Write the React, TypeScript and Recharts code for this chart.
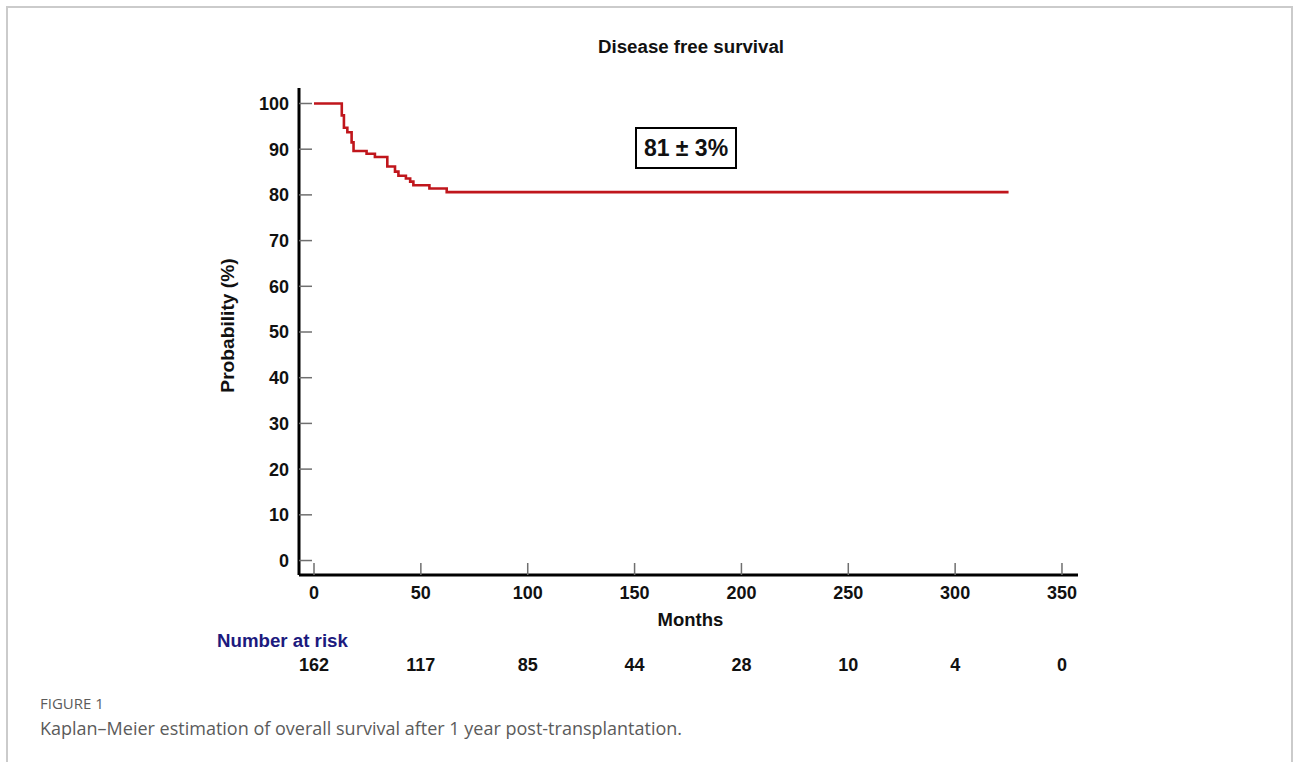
import React from 'react';
import { LineChart, Line, XAxis, YAxis, Label } from 'recharts';

const months = [0, 13.0, 14.0, 15.6, 17.6, 18.5, 24.6, 28.5, 34.3, 37.9, 39.5, 43.0, 45.0, 46.5, 54.0, 62.1, 325];
const survival = [100, 97.4, 94.7, 93.7, 91.5, 89.6, 89.0, 88.3, 86.2, 85.1, 84.2, 83.6, 82.9, 82.1, 81.4, 80.6, 80.6];
const xTicks = [0, 50, 100, 150, 200, 250, 300, 350];
const yTicks = [0, 10, 20, 30, 40, 50, 60, 70, 80, 90, 100];
const numberAtRisk = [162, 117, 85, 44, 28, 10, 4, 0];

const chartTitle = 'Disease free survival';
const xTitle = 'Months';
const yTitle = 'Probability (%)';
const riskTitle = 'Number at risk';
const estimateLabel = '81 ± 3%';
const figureLabel = 'FIGURE 1';
const caption = 'Kaplan\u2013Meier estimation of overall survival after 1 year post-transplantation.';

const data = months.map((t, i) => ({ t, s: survival[i] }));

const FONT = '"Liberation Sans", Arial, sans-serif';
const TICK_GRAY = '#6f6f6f';

const YTick = (props: any) => {
  const { x, y, payload } = props;
  return (
    <g>
      <line x1={x} x2={x + 13} y1={y} y2={y} stroke={TICK_GRAY} strokeWidth={1.5} />
      <text x={x - 10} y={y} dy="0.36em" textAnchor="end" fontFamily={FONT} fontWeight="bold" fontSize={18} fill="#111">
        {payload.value}
      </text>
    </g>
  );
};

const XTick = (props: any) => {
  const { x, y, payload } = props;
  const idx = xTicks.indexOf(payload.value);
  return (
    <g>
      <line x1={x} x2={x} y1={y} y2={y - 12} stroke={TICK_GRAY} strokeWidth={1.5} />
      <text x={x} y={y + 24} textAnchor="middle" fontFamily={FONT} fontWeight="bold" fontSize={18} fill="#111">
        {payload.value}
      </text>
      <text x={x} y={y + 96} textAnchor="middle" fontFamily={FONT} fontWeight="bold" fontSize={18} fill="#111">
        {idx >= 0 ? numberAtRisk[idx] : ''}
      </text>
    </g>
  );
};

const YTitle = (props: any) => {
  const vb = props.viewBox;
  const cx = vb.x + vb.width - 72;
  const cy = vb.y + vb.height / 2 - 6;
  return (
    <text
      x={cx}
      y={cy}
      transform={`rotate(-90 ${cx} ${cy})`}
      textAnchor="middle"
      dominantBaseline="central"
      fontFamily={FONT}
      fontWeight="bold"
      fontSize={19.2}
      fill="#111"
    >
      {yTitle}
    </text>
  );
};

const XTitle = (props: any) => {
  const vb = props.viewBox;
  const cx = vb.x + vb.width / 2 + 2;
  const cy = vb.y + 51;
  return (
    <text x={cx} y={cy} textAnchor="middle" fontFamily={FONT} fontWeight="bold" fontSize={18.5} fill="#111">
      {xTitle}
    </text>
  );
};

export default function App() {
  return (
    <div style={{ position: 'absolute', left: 0, top: 0, width: 1293, height: 762, background: '#fff', overflow: 'hidden' }}>
      <div
        style={{
          position: 'absolute',
          left: 6,
          top: 6,
          width: 1283,
          height: 800,
          border: '2px solid #cbcbcb',
          boxSizing: 'content-box',
        }}
      />
      <div style={{ position: 'absolute', left: 0, top: 0 }}>
        <LineChart width={1293} height={762} data={data} margin={{ top: 88, right: 215, left: 0, bottom: 147 }}>
          <XAxis
            dataKey="t"
            type="number"
            domain={[-7.02, 357.49]}
            allowDataOverflow
            ticks={xTicks}
            interval={0}
            height={40}
            tickSize={0}
            tickMargin={0}
            tickLine={false}
            axisLine={{ stroke: '#000', strokeWidth: 3 }}
            tick={<XTick />}
          >
            <Label content={<XTitle />} />
          </XAxis>
          <YAxis
            type="number"
            domain={[-3.17, 103.39]}
            allowDataOverflow
            ticks={yTicks}
            interval={0}
            width={299}
            tickSize={0}
            tickMargin={0}
            tickLine={false}
            axisLine={{ stroke: '#000', strokeWidth: 3 }}
            tick={<YTick />}
          >
            <Label content={<YTitle />} />
          </YAxis>
          <Line
            dataKey="s"
            type="stepAfter"
            stroke="#c0161c"
            strokeWidth={2.6}
            dot={false}
            isAnimationActive={false}
          />
        </LineChart>
      </div>
      <svg width={1293} height={762} style={{ position: 'absolute', left: 0, top: 0, pointerEvents: 'none' }}>
        <text x={691} y={53} textAnchor="middle" fontFamily={FONT} fontWeight="bold" fontSize={18.7} fill="#111">
          {chartTitle}
        </text>
        <text x={217} y={647} fontFamily={FONT} fontWeight="bold" fontSize={18.7} fill="#1c1a7e">
          {riskTitle}
        </text>
        <rect x={636} y={128} width={100} height={40} fill="#fff" stroke="#000" strokeWidth={2} />
        <text x={686} y={156} textAnchor="middle" fontFamily={FONT} fontWeight="bold" fontSize={23} fill="#111">
          {estimateLabel}
        </text>
      </svg>
      <div
        style={{
          position: 'absolute',
          left: 40,
          top: 693,
          fontFamily: '"Open Sans", sans-serif',
          fontSize: 15,
          color: '#5b5b5b',
        }}
      >
        {figureLabel}
      </div>
      <div
        style={{
          position: 'absolute',
          left: 40,
          top: 716,
          fontFamily: '"Open Sans", sans-serif',
          fontSize: 18,
          color: '#5b5b5b',
          whiteSpace: 'nowrap',
        }}
      >
        {caption}
      </div>
    </div>
  );
}
